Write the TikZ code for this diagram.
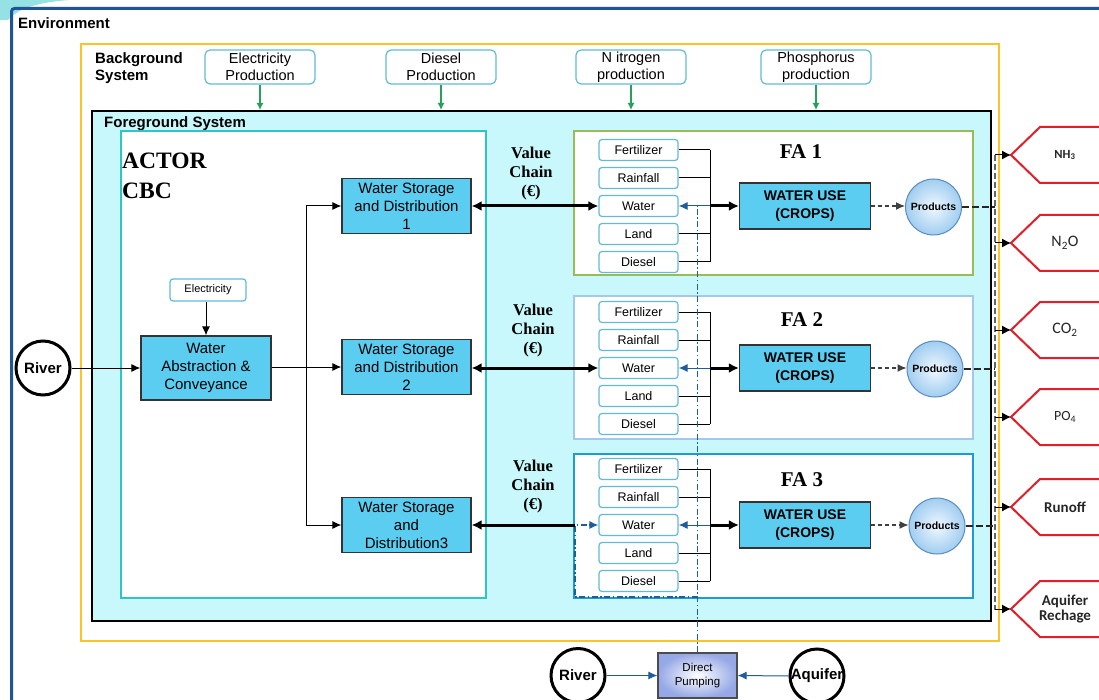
\documentclass[tikz,border=0pt]{standalone}
\usepackage{fontspec}
\setmainfont{Liberation Sans}
\newfontfamily\serifbf{Liberation Serif}
\newfontfamily\calfont{Carlito}
\usetikzlibrary{arrows.meta,shapes.geometric,shadings}
\definecolor{envblue}{RGB}{31,85,151}
\definecolor{bgyellow}{RGB}{250,196,40}
\definecolor{fgfill}{RGB}{200,248,251}
\definecolor{actorc}{RGB}{46,196,200}
\definecolor{softbd}{RGB}{98,186,214}
\definecolor{sky}{RGB}{91,205,240}
\definecolor{fagreen}{RGB}{155,187,89}
\definecolor{falblue}{RGB}{166,200,232}
\definecolor{fablue}{RGB}{30,155,215}
\definecolor{arrgreen}{RGB}{40,160,90}
\definecolor{outred}{RGB}{226,30,40}
\definecolor{flowblue}{RGB}{31,92,153}
\definecolor{prodin}{RGB}{240,248,255}
\definecolor{prodout}{RGB}{160,205,240}
\definecolor{prodbd}{RGB}{90,140,190}
\definecolor{dpout}{RGB}{150,168,230}
\definecolor{tealtop}{RGB}{150,225,228}
\tikzset{
  frame/.style={anchor=north west, inner sep=0pt},
  softbox/.style={draw=softbd, line width=1.2pt, rounded corners=5pt, fill=white, align=center, inner sep=0pt},
  topbox/.style={softbox, minimum width=110pt, minimum height=34pt, font=\fontsize{14.5}{17}\selectfont},
  inbox/.style={softbox, rounded corners=3pt, minimum width=79pt, minimum height=21pt, font=\fontsize{12.5}{14}\selectfont},
  bluebox/.style={draw=black!80, line width=1.2pt, fill=sky, align=center, inner sep=0pt, font=\fontsize{15}{18}\selectfont},
  wubox/.style={bluebox, minimum width=131pt, minimum height=46pt, font=\bfseries\fontsize{14}{18}\selectfont},
  wsdbox/.style={bluebox, minimum width=129pt, minimum height=55pt},
  circ/.style={circle, draw=black, line width=3pt, minimum size=54pt, inner sep=0pt, font=\bfseries\fontsize{15}{18}\selectfont},
  prod/.style={circle, draw=prodbd, line width=1pt, inner color=prodin, outer color=prodout, minimum size=56pt, inner sep=0pt, font=\bfseries\fontsize{10.5}{12}\selectfont},
  lab/.style={inner sep=0pt, font=\bfseries\fontsize{15}{17.5}\selectfont, align=left},
  vc/.style={inner sep=0pt, align=center, font=\serifbf\bfseries\fontsize{16.5}{19}\selectfont},
  falab/.style={inner sep=0pt, anchor=base, font=\serifbf\bfseries\fontsize{21}{24}\selectfont},
  garrow/.style={draw=arrgreen, line width=1.2pt, -{Latex[length=7pt,width=7pt]}},
  tline/.style={draw=black, line width=1pt},
  tarrow/.style={tline, -{Latex[length=9pt,width=8pt]}},
  thk/.style={draw=black, line width=3pt},
  barrow/.style={draw=flowblue, line width=1pt, -{Latex[length=9pt,width=8pt]}},
  dashar/.style={draw=black!75, line width=1.2pt, dash pattern=on 4pt off 3pt, -{Latex[length=9pt,width=8pt]}},
  pdash/.style={draw=black!85, line width=1.6pt, dash pattern=on 7pt off 3pt},
  busl/.style={draw=black!60, line width=1.2pt, dash pattern=on 6pt off 3pt},
  oarrow/.style={draw=black, line width=1pt, -{Latex[length=9pt,width=9pt]}},
  dd/.style={draw=flowblue, line width=1.2pt, dash pattern=on 6pt off 2.5pt on 1.5pt off 2.5pt},
  outtext/.style={inner sep=0pt, align=center, text=black!85},
  dpbox/.style={draw=black!70, line width=1.2pt, inner color=white, outer color=dpout, minimum width=79pt, minimum height=45pt, align=center, inner sep=0pt, font=\fontsize{11.5}{14}\selectfont}
}
\begin{document}
\begin{tikzpicture}[x=1pt,y=-1pt]
\useasboundingbox (0,0) rectangle (1099,700);
\clip (0,0) rectangle (1099,700);
\fill[white] (0,0) rectangle (1099,700);
% corner decoration
\fill[tealtop] (0,0) -- (70,0) .. controls (40,2) and (18,8) .. (8,20) -- (0,20) -- cycle;
% environment
\node[frame, draw=envblue, line width=3pt, rounded corners=3pt, minimum width=1120pt, minimum height=720pt] (env) at (10,7) {};
\node[lab, anchor=base west] (envlab) at (18,29) {Environment};
% background system
\node[frame, draw=bgyellow, line width=2pt, minimum width=918pt, minimum height=597pt] (bg) at (80,43) {};
\node[lab, anchor=north west] (bglab) at (95,52) {Background\\System};
\node[topbox] (elecp) at (260,67) {Electricity\\Production};
\node[topbox] (dieselp) at (441,67) {Diesel\\Production};
\node[topbox] (nitp) at (631,67) {N itrogen\\production};
\node[topbox] (phosp) at (816,67) {Phosphorus\\production};
% foreground
\node[frame, draw=black, line width=2pt, fill=fgfill, minimum width=899pt, minimum height=510pt] (fg) at (91,110) {};
\node[lab, anchor=base west] (fglab) at (104,128) {Foreground System};
\foreach \n in {elecp,dieselp,nitp,phosp}
  \draw[garrow] (\n.south) -- (\n.south |- fg.north);
% actor
\node[frame, draw=actorc, line width=2pt, fill=white, minimum width=365pt, minimum height=467pt] (actor) at (120,130) {};
\node[inner sep=0pt, anchor=base west, font=\serifbf\bfseries\fontsize{23.5}{28}\selectfont] (actorlab) at (122,169) {ACTOR};
\node[inner sep=0pt, anchor=base west, font=\serifbf\bfseries\fontsize{23.5}{28}\selectfont] (cbclab) at (122,199) {CBC};
\node[softbox, rounded corners=3pt, minimum width=76pt, minimum height=22pt, font=\fontsize{11}{13}\selectfont] (elec) at (208,290) {Electricity};
\node[bluebox, minimum width=130pt, minimum height=64pt] (wac) at (206,368) {Water\\Abstraction \&\\Conveyance};
\node[circ] (river) at (43,368) {River};
\node[wsdbox] (wsd1) at (406.5,206) {Water Storage\\and Distribution\\1};
\node[wsdbox] (wsd2) at (406.5,367) {Water Storage\\and Distribution\\2};
\node[wsdbox] (wsd3) at (406.5,525) {Water Storage\\and\\Distribution3};
\coordinate (jn) at (306,367);
\draw[tarrow] (elec.south -| wac.north) -- (wac.north);
\draw[tarrow] (river.east) -- (river.east -| wac.west);
\draw[tline] (wac.east |- jn) -- (jn);
\draw[tline] (jn |- wsd1.west) -- (jn |- wsd3.west);
\draw[tarrow] (jn |- wsd1.west) -- (wsd1.west);
\draw[tarrow] (jn) -- (wsd2.west);
\draw[tarrow] (jn |- wsd3.west) -- (wsd3.west);
% value chain labels
\node[vc] (vc1) at (531,174) {Value\\Chain\\(€)};
\node[vc] (vc2) at (533,331) {Value\\Chain\\(€)};
\node[vc] (vc3) at (533,487) {Value\\Chain\\(€)};
% FA boxes
\node[frame, draw=fagreen, line width=2.2pt, fill=white, minimum width=399pt, minimum height=144pt] (fa1) at (573,130) {};
\node[frame, draw=falblue, line width=2.2pt, fill=white, minimum width=399pt, minimum height=143pt] (fa2) at (573,295) {};
\node[frame, draw=fablue, line width=2.2pt, fill=white, minimum width=399pt, minimum height=144pt] (fa3) at (573,453) {};
\node[falab] (fa1lab) at (801,159) {FA 1};
\node[falab] (fa2lab) at (802,326) {FA 2};
\node[falab] (fa3lab) at (802,486) {FA 3};
% inputs, water use, products per FA
\foreach \k/\wy/\px in {1/206/933.5, 2/368/935, 3/525/937}{
  \node[inbox] (fert\k) at (638.5,\wy-56) {Fertilizer};
  \node[inbox] (rain\k) at (638.5,\wy-28) {Rainfall};
  \node[inbox] (water\k) at (638.5,\wy) {Water};
  \node[inbox] (land\k) at (638.5,\wy+28) {Land};
  \node[inbox] (dies\k) at (638.5,\wy+56) {Diesel};
  \coordinate (bus\k) at (710,\wy);
  \node[wubox] (wu\k) at (805,\wy) {WATER USE\\(CROPS)};
  \node[prod] (prod\k) at (\px,\wy+1) {Products};
  \foreach \n in {fert,rain,land,dies}
    \draw[tline] (\n\k.east) -- (\n\k.east -| bus\k);
  \draw[tline] (fert\k.east -| bus\k) -- (dies\k.east -| bus\k);
  \draw[barrow] (bus\k) -- (water\k.east);
  \draw[thk, -{Latex[length=10pt,width=10pt]}] (bus\k) -- (wu\k.west);
  \draw[dashar] (wu\k.east) -- (prod\k.west |- wu\k.east);
}
% value chain arrows
\draw[thk, {Latex[length=10pt,width=10pt]}-{Latex[length=10pt,width=10pt]}] (wsd1.east) -- (water1.west);
\draw[thk, {Latex[length=10pt,width=10pt]}-{Latex[length=10pt,width=10pt]}] (wsd2.east |- water2.west) -- (water2.west);
% direct pumping
\node[dpbox] (dp) at (697.5,675.5) {Direct\\Pumping};
\node[circ] (river2) at (578,675.5) {River};
\node[circ] (aquifer) at (817,676) {\makebox[0pt]{Aquifer}};
\draw[barrow] (river2.east) -- (dp.west);
\draw[barrow] (aquifer.west) -- (dp.east);
\coordinate (ddtop) at (697.5,206);
\coordinate (dd3a) at (697.5,597);
\coordinate (dd3b) at (575,597);
\draw[dd] (dp.north) -- (ddtop);
\draw[dd, -{Latex[length=9pt,width=8pt]}] (dd3a) -- (dd3b) -- (dd3b |- water3.west) -- (water3.west);
\draw[thk, {Latex[length=10pt,width=10pt]}-] (wsd3.east) -- (dd3b |- water3.west);
% emissions bus
\coordinate (obT) at (995,155);
\coordinate (obB) at (995,610);
\draw[busl] (obT) -- (obB);
\foreach \k in {1,2,3}
  \draw[pdash] (prod\k.east) -- (prod\k.east -| obT);
\foreach \y/\n/\t/\fs/\fw in {155/nh/{NH\textsubscript{3}}/12.5/\bfseries, 243/no/{N\textsubscript{2}O}/16/\relax, 330/co/{CO\textsubscript{2}}/16/\relax, 417/po/{PO\textsubscript{4}}/14/\relax, 507/ro/{Runoff}/15/\bfseries, 609/aq/{Aquifer\\Rechage}/15/\bfseries}{
  \filldraw[draw=outred, fill=white, line width=2pt, line join=miter] (1110,\y-28) -- (1040,\y-28) -- (1011,\y) -- (1040,\y+28) -- (1110,\y+28);
  \coordinate (tip-\n) at (1011,\y);
  \coordinate (src-\n) at (995,\y);
  \draw[oarrow] (src-\n) -- (tip-\n);
  \node[outtext, font=\calfont\fw\fontsize{\fs}{\fs}\selectfont] (out-\n) at (1065,\y) {\t};
}
\end{tikzpicture}
\end{document}
